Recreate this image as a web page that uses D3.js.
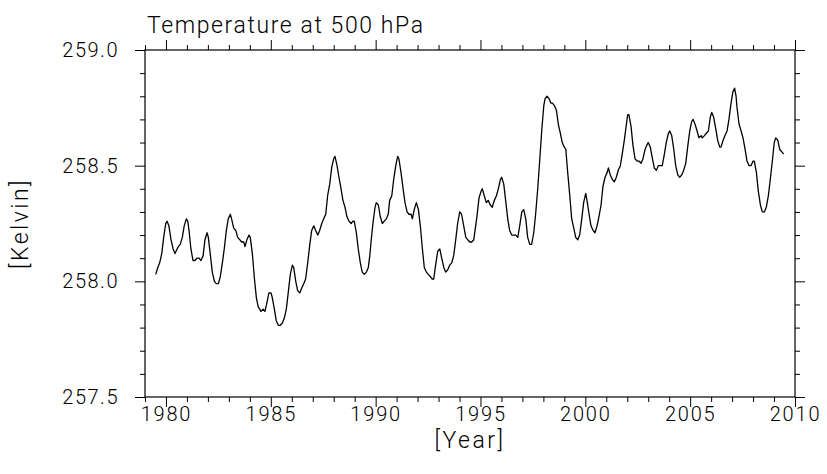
<!DOCTYPE html>
<html><head><meta charset="utf-8">
<script src="https://cdn.jsdelivr.net/npm/d3@7"></script>
<style>
body{margin:0;background:#fff;}
text{font-family:Roboto,"DejaVu Sans",sans-serif;font-weight:300;fill:#000;}
</style></head><body>
<svg id="c" width="827" height="474"></svg>
<script>
const years = [1979.51,1979.61,1979.70,1979.80,1979.89,1979.99,1980.05,1980.14,1980.24,1980.34,1980.43,1980.53,1980.59,1980.68,1980.78,1980.87,1980.97,1981.04,1981.10,1981.19,1981.29,1981.38,1981.48,1981.58,1981.67,1981.77,1981.86,1981.96,1982.02,1982.11,1982.21,1982.31,1982.40,1982.50,1982.59,1982.69,1982.78,1982.88,1982.97,1983.07,1983.13,1983.23,1983.33,1983.42,1983.52,1983.61,1983.71,1983.77,1983.86,1983.96,1984.02,1984.12,1984.21,1984.31,1984.40,1984.47,
1984.53,1984.63,1984.72,1984.82,1984.91,1985.01,1985.07,1985.17,1985.26,1985.36,1985.45,1985.55,1985.64,1985.74,1985.83,1985.93,1986.03,1986.09,1986.19,1986.28,1986.38,1986.47,1986.57,1986.66,1986.76,1986.86,1986.95,1987.05,1987.14,1987.24,1987.33,1987.43,1987.52,1987.62,1987.71,1987.81,1987.90,1988.00,1988.06,1988.16,1988.25,1988.35,1988.44,1988.54,1988.63,1988.73,1988.83,1988.92,1988.98,1989.08,1989.17,1989.27,1989.36,1989.46,1989.56,1989.65,1989.72,
1989.78,1989.87,1989.97,1990.03,1990.13,1990.22,1990.32,1990.41,1990.51,1990.60,1990.67,1990.77,1990.86,1990.96,1991.05,1991.11,1991.21,1991.31,1991.40,1991.50,1991.59,1991.69,1991.75,1991.84,1991.94,1992.04,1992.13,1992.23,1992.32,1992.42,1992.51,1992.61,1992.70,1992.77,1992.86,1992.96,1993.06,1993.15,1993.25,1993.34,1993.44,1993.53,1993.63,1993.72,1993.82,1993.91,1994.01,1994.10,1994.20,1994.30,1994.39,1994.49,1994.58,1994.68,
1994.74,1994.83,1994.93,1995.03,1995.09,1995.18,1995.28,1995.37,1995.47,1995.56,1995.66,1995.76,1995.85,1995.95,1996.01,1996.11,1996.20,1996.30,1996.39,1996.49,1996.58,1996.68,1996.78,1996.87,1996.97,1997.06,1997.16,1997.25,1997.35,1997.44,1997.54,1997.63,1997.73,1997.83,1997.92,1998.02,1998.08,1998.17,1998.27,1998.36,1998.43,1998.52,1998.62,1998.71,1998.81,1998.90,1999.00,1999.07,1999.16,1999.26,1999.35,1999.45,1999.54,1999.64,1999.73,1999.83,1999.92,2000.02,
2000.08,2000.18,2000.27,2000.37,2000.46,2000.56,2000.65,2000.75,2000.84,2000.94,2001.04,2001.10,2001.19,2001.29,2001.38,2001.48,2001.57,2001.67,2001.76,2001.86,2001.96,2002.02,2002.08,2002.18,2002.27,2002.37,2002.47,2002.56,2002.66,2002.75,2002.85,2002.94,2003.00,2003.10,2003.20,2003.29,2003.39,2003.48,2003.58,2003.67,2003.77,2003.86,2003.96,2004.03,2004.12,2004.22,2004.31,2004.41,2004.50,2004.60,2004.69,2004.79,2004.88,2004.98,2005.07,2005.14,2005.23,2005.33,2005.42,
2005.52,2005.58,2005.68,2005.77,2005.87,2005.96,2006.03,2006.12,2006.22,2006.31,2006.41,2006.47,2006.57,2006.66,2006.76,2006.85,2006.95,2007.04,2007.12,2007.19,2007.23,2007.33,2007.43,2007.52,2007.62,2007.71,2007.81,2007.90,2008.00,2008.06,2008.16,2008.25,2008.35,2008.44,2008.54,2008.63,2008.73,2008.82,2008.92,2009.01,2009.08,2009.18,2009.27,2009.37,2009.46];
const temps = [258.03,258.06,258.08,258.12,258.19,258.25,258.26,258.24,258.18,258.14,258.12,258.14,258.15,258.16,258.19,258.24,258.27,258.26,258.22,258.14,258.09,258.09,258.10,258.10,258.09,258.11,258.18,258.21,258.19,258.12,258.04,258.00,257.99,257.99,258.02,258.08,258.14,258.22,258.27,258.29,258.27,258.23,258.22,258.19,258.18,258.17,258.17,258.15,258.18,258.20,258.19,258.12,258.02,257.93,257.89,257.88,
257.87,257.88,257.87,257.91,257.95,257.95,257.93,257.88,257.83,257.81,257.81,257.82,257.84,257.88,257.95,258.03,258.07,258.06,258.00,257.96,257.95,257.97,257.99,258.01,258.08,258.16,258.22,258.24,258.22,258.20,258.22,258.25,258.27,258.29,258.37,258.42,258.49,258.53,258.54,258.50,258.45,258.40,258.35,258.32,258.28,258.26,258.25,258.26,258.26,258.21,258.14,258.08,258.04,258.03,258.04,258.06,258.11,
258.17,258.25,258.32,258.34,258.33,258.28,258.25,258.26,258.27,258.29,258.35,258.37,258.44,258.50,258.54,258.53,258.47,258.40,258.34,258.30,258.29,258.29,258.27,258.31,258.34,258.31,258.24,258.14,258.06,258.04,258.03,258.02,258.01,258.01,258.07,258.13,258.14,258.10,258.06,258.04,258.05,258.07,258.08,258.11,258.18,258.25,258.30,258.29,258.24,258.19,258.18,258.17,258.17,258.18,
258.22,258.28,258.36,258.39,258.40,258.37,258.34,258.35,258.33,258.32,258.35,258.37,258.40,258.44,258.45,258.42,258.35,258.27,258.22,258.20,258.20,258.20,258.19,258.24,258.30,258.31,258.27,258.19,258.16,258.16,258.21,258.29,258.40,258.53,258.65,258.76,258.79,258.80,258.79,258.77,258.77,258.76,258.74,258.68,258.64,258.60,258.58,258.57,258.47,258.37,258.27,258.23,258.19,258.18,258.20,258.27,258.34,258.38,
258.35,258.29,258.24,258.22,258.21,258.24,258.28,258.33,258.41,258.45,258.47,258.49,258.46,258.44,258.43,258.45,258.48,258.50,258.55,258.61,258.68,258.72,258.72,258.67,258.59,258.53,258.52,258.52,258.51,258.53,258.57,258.59,258.60,258.58,258.53,258.49,258.48,258.50,258.50,258.50,258.55,258.60,258.64,258.65,258.63,258.57,258.50,258.46,258.45,258.46,258.48,258.51,258.58,258.65,258.69,258.70,258.68,258.65,258.62,
258.63,258.62,258.63,258.64,258.65,258.71,258.73,258.71,258.66,258.61,258.58,258.58,258.61,258.63,258.65,258.70,258.77,258.82,258.835,258.80,258.755,258.68,258.65,258.62,258.57,258.52,258.50,258.50,258.52,258.52,258.47,258.39,258.33,258.30,258.30,258.32,258.37,258.44,258.52,258.60,258.62,258.61,258.57,258.56,258.55];

const xMajorTicks = [1980,1985,1990,1995,2000,2005,2010];
const yMajorTicks = [257.5,258.0,258.5,259.0];
const titleText = "Temperature at 500 hPa";
const xLabel = "[Year]";
const yLabel = "[Kelvin]";

const L=145, R=795, T=50, B=397;
const svg = d3.select("#c");
const x = d3.scaleLinear().domain([1979,2010]).range([L,R]);
const y = d3.scaleLinear().domain([257.5,259.0]).range([B,T]);

const xMinor = d3.range(1979,2011).filter(v=>!xMajorTicks.includes(v));
const yMinor = d3.range(257.5,259.0001,0.1).map(v=>+v.toFixed(1)).filter(v=>!yMajorTicks.includes(v));

function styleAxis(g){ g.select(".domain").remove(); g.selectAll("line").attr("stroke","#000").attr("stroke-width",1); }

// bottom
svg.append("g").attr("transform",`translate(0,${B})`).call(d3.axisBottom(x).tickValues(xMinor).tickSize(5).tickFormat("")).call(styleAxis);
svg.append("g").attr("transform",`translate(0,${B})`).call(d3.axisBottom(x).tickValues(xMajorTicks).tickSize(10).tickPadding(0).tickFormat(d3.format("d"))).call(styleAxis)
  .selectAll("text").attr("font-size",20).style("letter-spacing","1.8px").attr("fill","#000");
// top
svg.append("g").attr("transform",`translate(0,${T})`).call(d3.axisTop(x).tickValues(xMinor).tickSize(5).tickFormat("")).call(styleAxis);
svg.append("g").attr("transform",`translate(0,${T})`).call(d3.axisTop(x).tickValues(xMajorTicks).tickSize(10).tickFormat("")).call(styleAxis);
// left
svg.append("g").attr("transform",`translate(${L},0)`).call(d3.axisLeft(y).tickValues(yMinor).tickSize(5).tickFormat("")).call(styleAxis);
svg.append("g").attr("transform",`translate(${L},0)`).call(d3.axisLeft(y).tickValues(yMajorTicks).tickSize(10).tickPadding(16).tickFormat(d3.format(".1f"))).call(styleAxis)
  .selectAll("text").attr("font-size",20).style("letter-spacing","1.5px").attr("fill","#000");
// right
svg.append("g").attr("transform",`translate(${R},0)`).call(d3.axisRight(y).tickValues(yMinor).tickSize(5).tickFormat("")).call(styleAxis);
svg.append("g").attr("transform",`translate(${R},0)`).call(d3.axisRight(y).tickValues(yMajorTicks).tickSize(10).tickFormat("")).call(styleAxis);

// frame
svg.append("rect").attr("x",L).attr("y",T).attr("width",R-L).attr("height",B-T)
  .attr("fill","none").attr("stroke","#000").attr("stroke-width",1.2);

const data = years.map((d,i)=>({t:d,v:temps[i]}));
svg.append("path").datum(data).attr("fill","none").attr("stroke","#000").attr("stroke-width",1.3)
  .attr("stroke-linejoin","round")
  .attr("d", d3.line().x(d=>x(d.t)).y(d=>y(d.v)));

svg.append("text").attr("x",147).attr("y",33).attr("font-size",23).style("letter-spacing","1.6px").text(titleText);
svg.append("text").attr("x",(L+R)/2).attr("y",448).attr("text-anchor","middle").attr("font-size",23).style("letter-spacing","2.5px").text(xLabel);
svg.append("text").attr("transform",`translate(28,${(T+B)/2}) rotate(-90)`).attr("text-anchor","middle").attr("font-size",23).style("letter-spacing","2.5px").text(yLabel);
</script></body></html>
